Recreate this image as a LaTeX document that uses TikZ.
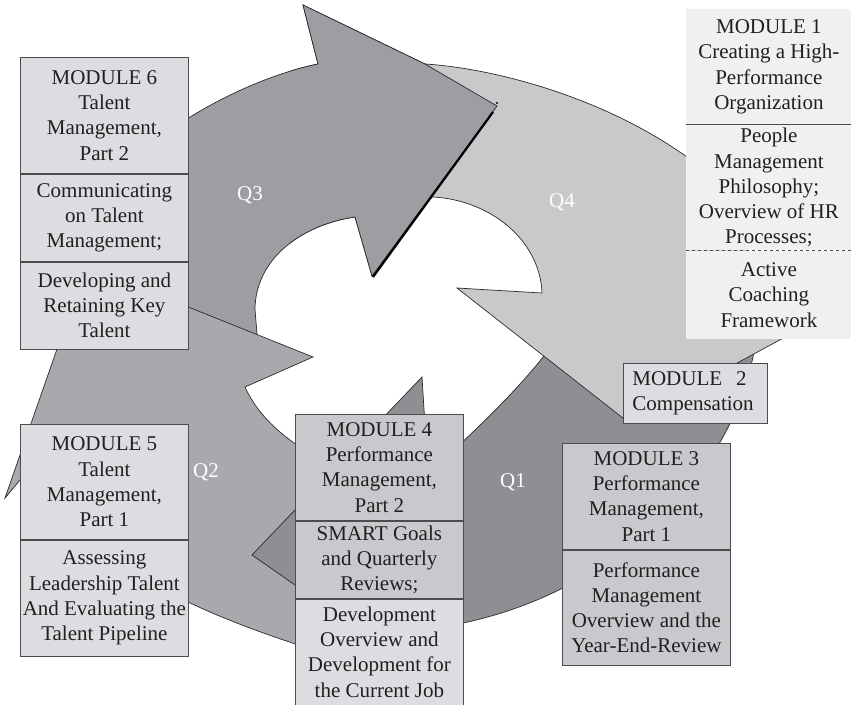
\documentclass[tikz,border=0pt]{standalone}
\usepackage{fontspec}
\setmainfont{Liberation Serif}
\definecolor{qone}{HTML}{8E8F93}
\definecolor{qtwo}{HTML}{A8A9AC}
\definecolor{qthree}{HTML}{9D9EA2}
\definecolor{qfour}{HTML}{C8C9CB}
\definecolor{boxlight}{HTML}{DCDDE0}
\definecolor{boxmid}{HTML}{C8C9CC}
\definecolor{boxpale}{HTML}{EFF0F2}
\definecolor{edge}{HTML}{2B2B2B}
\definecolor{ink}{HTML}{231F20}
\begin{document}
\begin{tikzpicture}[x=1pt,y=-1pt,
  qshape/.style={draw=edge, line width=0.7pt, line join=miter},
  sect/.style={draw=black!70, line width=0.8pt, minimum width=168pt, inner sep=0pt,
    align=center, anchor=north west, text=ink, font=\fontsize{21}{25.3}\selectfont},
  qlabel/.style={text=white, font=\fontsize{21}{25.3}\selectfont}]
\useasboundingbox (0,0) rectangle (851,704);

% quarter Q3 (drawn first, its head is repainted on top at the end)
\def\qthreepath{(318,64) .. controls (240,80) and (130,140) .. (80,220)
  .. controls (55,260) and (45,290) .. (45,320) -- (258,345) -- (255,310)
  .. controls (255,260) and (300,225) .. (355,217) -- (372,276) -- (497,106)
  -- (425,64) -- (303,5) -- cycle}
\path[qshape, fill=qthree] \qthreepath;

% quarter Q2
\path[qshape, fill=qtwo] (86,266) -- (313,357) -- (245,387)
  .. controls (260,420) and (290,445) .. (340,470) -- (340,658)
  .. controls (280,640) and (230,622) .. (188,602)
  .. controls (120,578) and (60,520) .. (35,462) -- (5,498) -- cycle;

% quarter Q1
\path[qshape, fill=qone] (252,555) -- (422,377) -- (428,474)
  .. controls (470,435) and (520,390) .. (556,340) -- (755,346)
  .. controls (735,470) and (620,590) .. (463,623) -- (430,631) -- (400,658) -- cycle;

% quarter Q4
\path[qshape, fill=qfour] (400,58) -- (425,64)
  .. controls (490,68) and (600,95) .. (687,157)
  .. controls (730,190) and (755,250) .. (755,300) -- (800,329) -- (628,422)
  -- (457,288) -- (542,293) .. controls (540,240) and (490,200) .. (433,197)
  -- (420,198) -- cycle;

% Q3 arrow head on top of Q4
\begin{scope}
  \clip (290,0) rectangle (530,290);
  \path[qshape, fill=qthree] \qthreepath;
\end{scope}
\draw[black, line width=2.2pt] (493,112) -- (373,277);
\fill[black] (497,103) circle (1.1);

% quarter labels
\node[qlabel] (q1) at (513,482) {Q1};
\node[qlabel] (q2) at (206,472) {Q2};
\node[qlabel] (q3) at (250,195) {Q3};
\node[qlabel] (q4) at (562,202) {Q4};

% module 1
\node[sect, draw=none, fill=boxpale, minimum width=165pt, minimum height=115pt] (m1a) at (686,9)
  {MODULE 1\\Creating a High-\\Performance\\Organization};
\node[sect, draw=none, fill=boxpale, minimum width=165pt, minimum height=125pt] (m1b) at (m1a.south west)
  {People\\Management\\Philosophy;\\Overview of HR\\Processes;};
\node[sect, draw=none, fill=boxpale, minimum width=165pt, minimum height=88pt] (m1c) at (m1b.south west)
  {Active\\Coaching\\Framework};
\draw[black!70, line width=0.8pt] (m1a.south west) -- (m1a.south east);
\draw[black!70, line width=0.8pt, dashed] (m1b.south west) -- (m1b.south east);

% module 2
\node[sect, fill=boxlight, minimum width=144pt, minimum height=60pt, text width=126pt,
  inner xsep=9pt, align=left] (m2) at (623,363) {MODULE\ \ 2\\Compensation};

% module 3
\node[sect, fill=boxmid, minimum height=106pt] (m3a) at (562,443)
  {MODULE 3\\Performance\\Management,\\Part 1};
\node[sect, fill=boxmid, minimum height=115pt] (m3b) at (m3a.south west)
  {Performance\\Management\\Overview and the\\Year-End-Review};

% module 4
\node[sect, fill=boxmid, minimum height=106pt] (m4a) at (295,414)
  {MODULE 4\\Performance\\Management,\\Part 2};
\node[sect, fill=boxmid, minimum height=77pt] (m4b) at (m4a.south west)
  {SMART Goals\\and Quarterly\\Reviews;};
\node[sect, fill=boxlight, minimum height=106pt] (m4c) at (m4b.south west)
  {Development\\Overview and\\Development for\\the Current Job};

% module 5
\node[sect, fill=boxlight, minimum height=115pt] (m5a) at (20,424)
  {MODULE 5\\Talent\\Management,\\Part 1};
\node[sect, fill=boxlight, minimum height=116pt] (m5b) at (m5a.south west)
  {Assessing\\Leadership Talent\\And Evaluating the\\Talent Pipeline};

% module 6
\node[sect, fill=boxlight, minimum height=116pt] (m6a) at (20,57)
  {MODULE 6\\Talent\\Management,\\Part 2};
\node[sect, fill=boxlight, minimum height=87pt] (m6b) at (m6a.south west)
  {Communicating\\on Talent\\Management;};
\node[sect, fill=boxlight, minimum height=87pt] (m6c) at (m6b.south west)
  {Developing and\\Retaining Key\\Talent};
\end{tikzpicture}
\end{document}
